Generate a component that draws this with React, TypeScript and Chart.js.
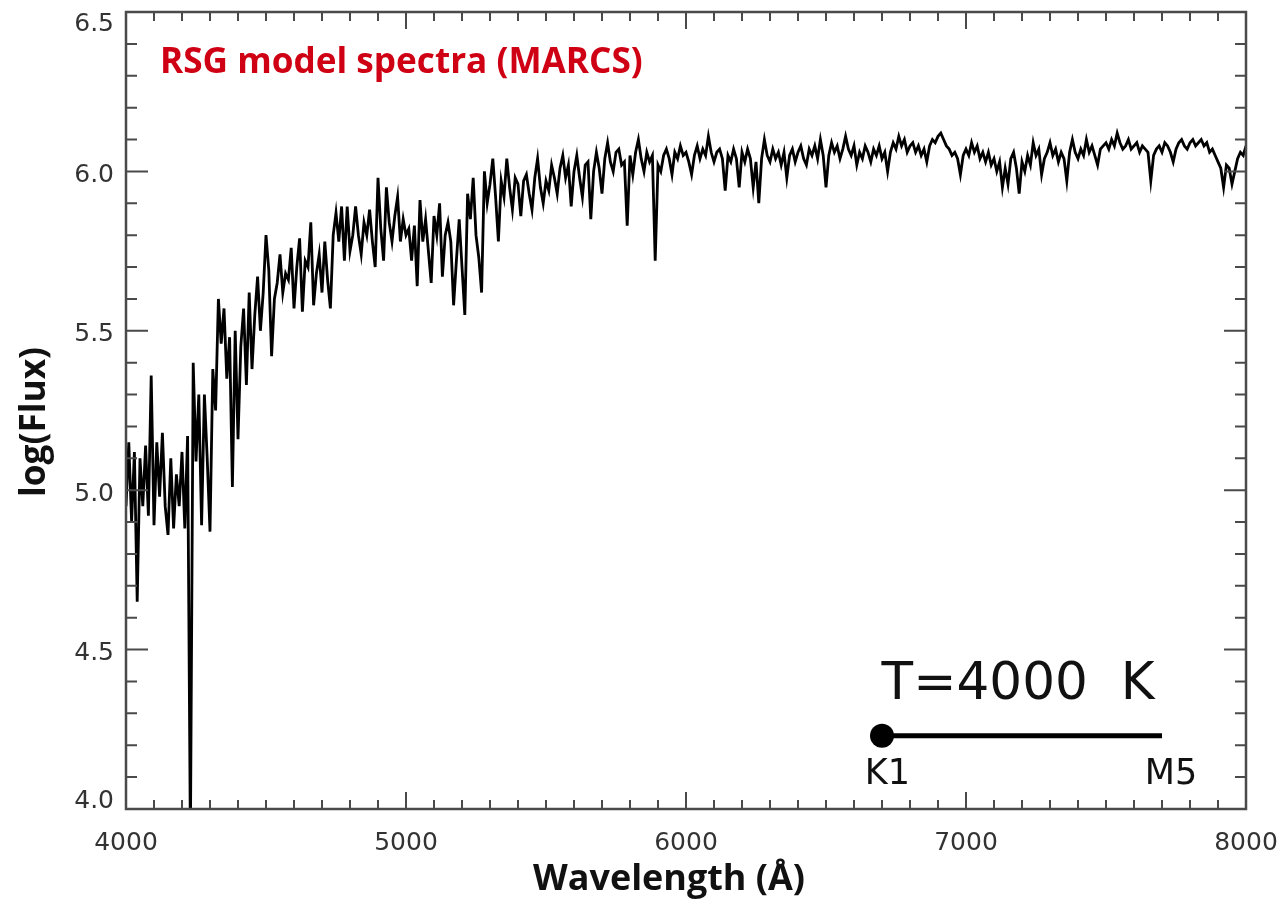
import React, { useEffect, useRef } from "react";
import { Chart, registerables } from "chart.js";

Chart.register(...registerables);

// ---------- axes ----------
const X_MIN = 4000;
const X_MAX = 8000;
const Y_MIN = 4.0;
const Y_MAX = 6.5;
const X_MAJOR = 1000;
const X_MINOR = 100;
const Y_MAJOR = 0.5;
const Y_MINOR = 0.1;
const Y_TICK_LABELS = ["4.0", "4.5", "5.0", "5.5", "6.0", "6.5"];

const WAVE_START = 4000;
const WAVE_STEP = 10;

const FLUX_4000_4490 = [
  4.95, 5.15, 4.9, 5.12, 4.65, 5.1, 4.95, 5.14, 4.92, 5.36,
  4.89, 5.15, 4.98, 5.18, 4.95, 4.86, 5.1, 4.88, 5.05, 4.95,
  5.12, 4.88, 5.17, 3.9, 5.4, 5.09, 5.3, 4.89, 5.3, 5.1,
  4.87, 5.38, 5.25, 5.6, 5.46, 5.57, 5.35, 5.48, 5.01, 5.5,
  5.16, 5.45, 5.57, 5.33, 5.62, 5.38, 5.55, 5.67, 5.5, 5.62,
];
const FLUX_4500_4990 = [
  5.8, 5.69, 5.42, 5.6, 5.65, 5.74, 5.62, 5.68, 5.66, 5.76,
  5.57, 5.7, 5.79, 5.56, 5.72, 5.7, 5.84, 5.58, 5.68, 5.74,
  5.62, 5.78, 5.66, 5.57, 5.8, 5.87, 5.78, 5.89, 5.72, 5.89,
  5.75, 5.8, 5.89, 5.8, 5.74, 5.84, 5.8, 5.88, 5.78, 5.7,
  5.98, 5.82, 5.72, 5.95, 5.84, 5.78, 5.86, 5.92, 5.78, 5.85,
];
const FLUX_5000_5490 = [
  5.8, 5.82, 5.72, 5.83, 5.64, 5.91, 5.78, 5.85, 5.75, 5.65,
  5.86, 5.8, 5.9, 5.67, 5.8, 5.84, 5.78, 5.58, 5.72, 5.85,
  5.7, 5.55, 5.93, 5.85, 5.98, 5.8, 5.73, 5.62, 6.0, 5.9,
  5.96, 6.04, 5.92, 5.78, 5.97, 5.92, 6.04, 5.95, 5.88, 5.98,
  5.96, 5.86, 5.97, 5.99, 5.93, 5.88, 5.98, 6.04, 5.95, 5.9,
];
const FLUX_5500_5990 = [
  5.97, 5.94, 6.02, 5.98, 5.93, 6.01, 6.05, 5.98, 6.02, 5.89,
  6.0, 6.05, 5.98, 5.92, 6.02, 6.03, 5.85, 6.0, 6.06, 6.01,
  5.93, 6.04, 6.09, 6.03, 6.0, 6.06, 6.07, 6.02, 6.03, 5.83,
  6.05, 5.99, 6.06, 6.1, 6.04, 6.0, 6.06, 6.03, 6.05, 5.72,
  6.02, 6.0, 6.05, 6.07, 6.04, 5.99, 6.06, 6.04, 6.08, 6.05,
];
const FLUX_6000_6490 = [
  6.06, 6.03, 5.99, 6.05, 6.08, 6.04, 6.07, 6.05, 6.11, 6.06,
  6.03, 6.06, 6.07, 6.04, 5.94, 6.05, 6.03, 6.07, 6.04, 5.95,
  6.06, 6.03, 6.07, 6.04, 5.95, 6.03, 5.9, 6.04, 6.1, 6.05,
  6.03, 6.07, 6.04, 6.06, 6.02, 6.06, 5.98, 6.05, 6.07, 6.03,
  6.06, 6.08, 6.04, 6.02, 6.07, 6.05, 6.08, 6.04, 6.1, 6.05,
];
const FLUX_6500_6990 = [
  5.95, 6.05, 6.09, 6.06, 6.08, 6.04, 6.07, 6.11, 6.07, 6.05,
  6.08, 6.02, 6.06, 6.04, 6.08, 6.06, 6.03, 6.07, 6.05, 6.08,
  6.04, 6.06, 6.0, 6.06, 6.09, 6.07, 6.11, 6.08, 6.1, 6.06,
  6.08, 6.09, 6.06, 6.08, 6.05, 6.07, 6.03, 6.08, 6.1, 6.09,
  6.11, 6.12, 6.1, 6.08, 6.07, 6.05, 6.06, 6.04, 5.99, 6.05,
];
const FLUX_7000_7490 = [
  6.07, 6.05, 6.09, 6.06, 6.08, 6.04, 6.06, 6.03, 6.06, 6.02,
  6.04, 6.0, 6.03, 5.95, 6.01, 5.96, 6.04, 6.06, 6.01, 5.93,
  6.03, 6.0, 6.05, 6.02, 6.09, 6.05, 6.07, 5.99, 6.04, 6.06,
  6.09, 6.05, 6.07, 6.03, 6.06, 6.04, 5.97, 6.06, 6.1, 6.06,
  6.04, 6.07, 6.05, 6.1, 6.06, 6.08, 6.05, 6.02, 6.07, 6.08,
];
const FLUX_7500_8000 = [
  6.09, 6.07, 6.1, 6.08, 6.12, 6.09, 6.07, 6.08, 6.1, 6.07,
  6.08, 6.09, 6.06, 6.08, 6.07, 6.06, 5.97, 6.05, 6.07, 6.08,
  6.06, 6.09, 6.08, 6.06, 6.03, 6.07, 6.09, 6.1, 6.08, 6.07,
  6.09, 6.1, 6.08, 6.09, 6.1, 6.08, 6.09, 6.06, 6.07, 6.05,
  6.03, 6.01, 5.95, 6.02, 6.01, 5.96, 6.0, 6.04, 6.06, 6.05,
  6.08,
];

// ---------- temperature / spectral-type bar ----------
const SEQ_X = [6700, 7700];
const SEQ_Y = [4.23, 4.23];
const SEQ_LABELS = ["K1", "M5"];
const SEQ_LABEL_X = [6719, 7732];
const SEQ_LABEL_Y = 4.078;
const TEMP_TEXT = "T=4000  K";
const TEMP_X = 7186;
const TEMP_Y = 4.345;

// ---------- texts ----------
const TITLE_TEXT = "RSG model spectra (MARCS)";
const X_TITLE = "Wavelength (Å)";
const Y_TITLE = "log(Flux)";

const AXIS_COLOR = "#4a4a4a";
const TICK_TEXT_COLOR = "#333333";
const RED = "#d00014";
const TICK_FONT = "'DejaVu Sans'";

function fitFontSize(ctx: CanvasRenderingContext2D, text: string, weight: string, family: string, target: number) {
  ctx.font = `${weight} 100px ${family}`;
  const w = ctx.measureText(text).width;
  return (100 * target) / w;
}

const framePlugin = {
  id: "idlFrame",
  afterDatasetsDraw(chart: any) {
    const ctx: CanvasRenderingContext2D = chart.ctx;
    const { left, right, top, bottom } = chart.chartArea;
    const xs = chart.scales.x;
    const ys = chart.scales.y;
    ctx.save();
    ctx.strokeStyle = AXIS_COLOR;
    ctx.lineWidth = 2.5;
    ctx.strokeRect(left, top, right - left, bottom - top);
    ctx.lineWidth = 2;
    ctx.beginPath();
    const nx = Math.round((X_MAX - X_MIN) / X_MINOR);
    for (let i = 0; i <= nx; i++) {
      const v = X_MIN + i * X_MINOR;
      const px = xs.getPixelForValue(v);
      const major = i % Math.round(X_MAJOR / X_MINOR) === 0;
      const len = major ? 17 : 9;
      ctx.moveTo(px, bottom);
      ctx.lineTo(px, bottom - len);
      ctx.moveTo(px, top);
      ctx.lineTo(px, top + len);
    }
    const ny = Math.round((Y_MAX - Y_MIN) / Y_MINOR);
    for (let i = 0; i <= ny; i++) {
      const v = Y_MIN + i * Y_MINOR;
      const py = ys.getPixelForValue(v);
      const major = i % Math.round(Y_MAJOR / Y_MINOR) === 0;
      const len = major ? 22 : 11;
      ctx.moveTo(left, py);
      ctx.lineTo(left + len, py);
      ctx.moveTo(right, py);
      ctx.lineTo(right - len, py);
    }
    ctx.stroke();

    // y tick labels (kept inside the frame's vertical extent, IDL style)
    ctx.fillStyle = TICK_TEXT_COLOR;
    ctx.font = `normal 25px ${TICK_FONT}`;
    ctx.textAlign = "right";
    ctx.textBaseline = "middle";
    Y_TICK_LABELS.forEach((lab) => {
      const py = ys.getPixelForValue(Number(lab)) + 4;
      const cy = Math.min(Math.max(py, top + 12), bottom - 8);
      ctx.fillText(lab, left - 12, cy);
    });

    // red title
    ctx.fillStyle = RED;
    ctx.textBaseline = "alphabetic";
    ctx.textAlign = "left";
    let s = fitFontSize(ctx, TITLE_TEXT, "bold", "'Open Sans'", 483);
    ctx.font = `bold ${s}px 'Open Sans'`;
    ctx.fillText(TITLE_TEXT, left + 34, top + 61);

    // temperature text and spectral types
    ctx.fillStyle = "#111";
    ctx.textAlign = "center";
    s = fitFontSize(ctx, TEMP_TEXT, "normal", "'DejaVu Sans'", 273);
    ctx.font = `normal ${s}px 'DejaVu Sans'`;
    ctx.fillText(TEMP_TEXT, xs.getPixelForValue(TEMP_X), ys.getPixelForValue(TEMP_Y));
    ctx.font = `normal 35px 'DejaVu Sans'`;
    SEQ_LABELS.forEach((lab, i) => {
      ctx.fillText(lab, xs.getPixelForValue(SEQ_LABEL_X[i]), ys.getPixelForValue(SEQ_LABEL_Y));
    });

    // axis titles
    ctx.fillStyle = "#111";
    s = fitFontSize(ctx, X_TITLE, "bold", "'Open Sans'", 272);
    ctx.font = `bold ${s}px 'Open Sans'`;
    ctx.textAlign = "center";
    ctx.fillText(X_TITLE, 669, 890);
    s = fitFontSize(ctx, Y_TITLE, "bold", "'Open Sans'", 150);
    ctx.font = `bold ${s}px 'Open Sans'`;
    ctx.translate(35, 422);
    ctx.rotate(-Math.PI / 2);
    ctx.textBaseline = "middle";
    ctx.fillText(Y_TITLE, 0, 0);
    ctx.restore();
  },
};

export default function App() {
  const ref = useRef<HTMLCanvasElement | null>(null);
  useEffect(() => {
    if (!ref.current) return;
    const flux = [
      ...FLUX_4000_4490,
      ...FLUX_4500_4990,
      ...FLUX_5000_5490,
      ...FLUX_5500_5990,
      ...FLUX_6000_6490,
      ...FLUX_6500_6990,
      ...FLUX_7000_7490,
      ...FLUX_7500_8000,
    ];
    const spectrum = flux.map((f, i) => ({ x: WAVE_START + i * WAVE_STEP, y: f }));
    const seq = SEQ_X.map((x, i) => ({ x, y: SEQ_Y[i] }));
    const chart = new Chart(ref.current, {
      type: "line",
      data: {
        datasets: [
          {
            data: spectrum,
            borderColor: "#000000",
            borderWidth: 2.8,
            pointRadius: 0,
            tension: 0,
            fill: false,
          },
          {
            data: seq,
            borderColor: "#000000",
            backgroundColor: "#000000",
            borderWidth: 5,
            pointRadius: [12, 0],
            pointBorderWidth: 0,
            pointBackgroundColor: "#000000",
            tension: 0,
            fill: false,
            clip: false as any,
          },
        ],
      },
      options: {
        responsive: false,
        animation: false,
        events: [],
        layout: { padding: { left: 0, right: 41, top: 12, bottom: 0 } },
        plugins: { legend: { display: false }, tooltip: { enabled: false }, title: { display: false } },
        scales: {
          x: {
            type: "linear",
            min: X_MIN,
            max: X_MAX,
            grid: { display: false, drawTicks: false },
            border: { display: false },
            ticks: {
              stepSize: X_MAJOR,
              autoSkip: false,
              maxRotation: 0,
              padding: 19,
              color: TICK_TEXT_COLOR,
              font: { family: TICK_FONT, size: 25 },
              callback: (v: any) => String(v),
            },
            afterFit: (scale: any) => {
              scale.height = 94;
              scale.paddingLeft = 0;
              scale.paddingRight = 0;
            },
          },
          y: {
            type: "linear",
            min: Y_MIN,
            max: Y_MAX,
            grid: { display: false, drawTicks: false },
            border: { display: false },
            ticks: {
              display: false,
              stepSize: Y_MAJOR,
            },
            afterFit: (scale: any) => {
              scale.width = 126;
              scale.paddingTop = 0;
              scale.paddingBottom = 0;
            },
          },
        },
      },
      plugins: [framePlugin],
    });
    return () => chart.destroy();
  }, []);
  return (
    <div style={{ position: "fixed", left: 0, top: 0, width: 1287, height: 903, background: "#fff" }}>
      <canvas ref={ref} width={1287} height={903} style={{ display: "block" }} />
    </div>
  );
}
